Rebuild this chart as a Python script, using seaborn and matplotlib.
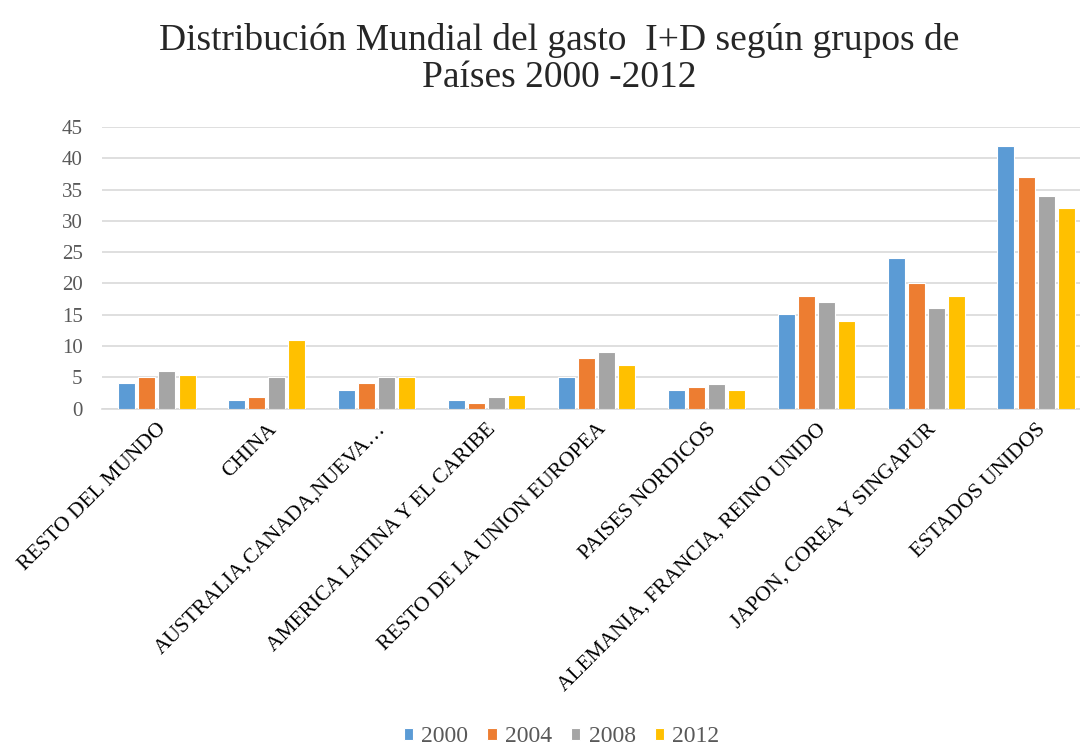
import pandas as pd
import matplotlib.pyplot as plt
import seaborn as sns

categories = ["RESTO DEL MUNDO", "CHINA", "AUSTRALIA,CANADA,NUEVA…",
              "AMERICA LATINA Y EL CARIBE", "RESTO DE LA UNION EUROPEA",
              "PAISES NORDICOS", "ALEMANIA, FRANCIA, REINO UNIDO",
              "JAPON, COREA Y SINGAPUR", "ESTADOS UNIDOS"]
years = ["2000", "2004", "2008", "2012"]
v2000 = [4, 1.4, 3, 1.4, 5.1, 2.9, 15.1, 24, 42]
v2004 = [5, 1.9, 4, 0.9, 8, 3.4, 18, 20, 37]
v2008 = [6, 5, 5, 1.9, 9, 3.9, 17, 16, 34]
v2012 = [5.4, 11, 5, 2.2, 7, 2.9, 14, 18, 32]
colors = ["#5B9BD5", "#ED7D31", "#A5A5A5", "#FFC000"]

rows = []
for yr, vals in zip(years, [v2000, v2004, v2008, v2012]):
    for c, v in zip(categories, vals):
        rows.append({"grupo": c, "año": yr, "gasto": v})
df = pd.DataFrame(rows)

sns.set_style("white")
plt.rcParams['font.family'] = ['Liberation Serif', 'DejaVu Serif']

fig = plt.figure(figsize=(10.8, 7.47), dpi=100)
# plot area runs slightly past the right edge, as in the original
ax = fig.add_axes([102 / 1080, 338.5 / 747, 989 / 1080, 281.5 / 747])
sns.barplot(data=df, x="grupo", y="gasto", hue="año", palette=colors,
            width=0.73, gap=0.15, edgecolor="white", linewidth=0.8,
            saturation=1, ax=ax, zorder=3)

ax.set_ylim(0, 45)
ax.set_yticks(range(0, 46, 5))
ax.grid(axis="y", color="#D9D9D9", linewidth=1.2, zorder=0)
ax.set_xlabel("")
ax.set_ylabel("")
for s in ["top", "right", "left"]:
    ax.spines[s].set_visible(False)
ax.spines["bottom"].set_color("#D9D9D9")
ax.spines["bottom"].set_linewidth(1.2)
ax.tick_params(axis="y", length=0, labelsize=15, colors="#595959", pad=14)
ax.tick_params(axis="x", length=0, labelsize=15.5, colors="black", pad=8)
plt.setp(ax.get_xticklabels(), rotation=45, ha="right", rotation_mode="anchor")

fig.text(0.518, 0.946, "Distribución Mundial del gasto  I+D según grupos de",
         fontsize=27, ha="center", va="center")
fig.text(0.518, 0.896, "Países 2000 -2012", fontsize=27, ha="center", va="center")

ax.get_legend().remove()
handles, labels = ax.get_legend_handles_labels()
leg = fig.legend(handles, labels, loc="center", bbox_to_anchor=(0.52, 0.0134),
                 ncol=4, frameon=False, fontsize=17, handlelength=0.4,
                 handleheight=0.4, handletextpad=0.35, columnspacing=0.8)
for t in leg.get_texts():
    t.set_color("#595959")

fig.savefig("out.png", dpi=100)
